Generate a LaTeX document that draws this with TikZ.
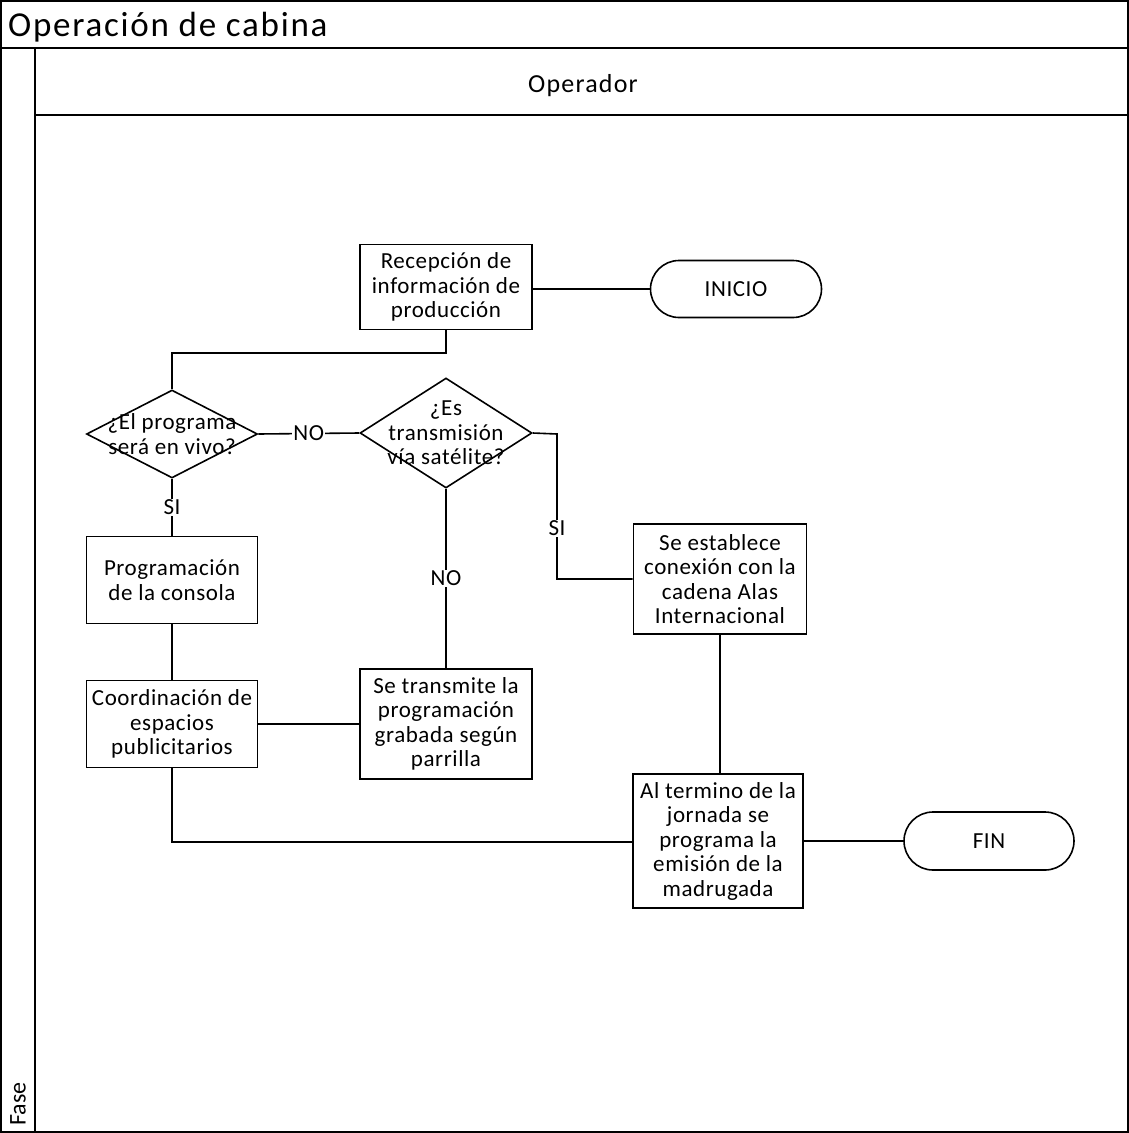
\documentclass[tikz,border=0pt]{standalone}
\usepackage{fontspec}
\setmainfont{Carlito}
\newfontfamily\boxfont[LetterSpace=2.5]{Carlito}
\newfontfamily\titlefont[LetterSpace=5]{Carlito}
\newfontfamily\lanefont[LetterSpace=4.6]{Carlito}
\usetikzlibrary{shapes.geometric,shapes.misc}
\begin{document}
\begin{tikzpicture}[x=1pt,y=-1pt,line width=1.6pt,
  every node/.style={font=\boxfont\fontsize{23}{24.5}\selectfont},
  procbox/.style={draw,rectangle,inner sep=0pt,align=center},
  decis/.style={draw,diamond,inner sep=0pt,minimum width=171pt,minimum height=88pt},
  termin/.style={draw,rounded rectangle,inner sep=0pt,minimum width=171pt,minimum height=57pt},
  lbl/.style={fill=white,inner sep=1pt}]
\useasboundingbox (0,0) rectangle (1129,1133);
% frame
\draw (0.8,0.8) rectangle (1128.2,1132.2);
\draw (0,48) -- (1129,48);
\draw (35,48) -- (35,1133);
\draw (35,115) -- (1129,115);
\node[anchor=west,font=\titlefont\fontsize{35}{38}\selectfont] (title) at (4,27) {Operación de cabina};
\node[font=\lanefont\fontsize{26}{30}\selectfont] (lane) at (583,86) {Operador};
\node[anchor=west,rotate=90,font=\setmainfont{Carlito}\fontsize{24}{28}\selectfont] (fase) at (18,1130) {Fase};
% nodes
\node[procbox,minimum width=172pt,minimum height=85pt] (rec) at (446,287) {Recepción de\\información de\\producción};
\node[termin] (ini) at (736,289) {INICIO};
\node[decis] (d1) at (172,434) {};
\node[align=center] (d1t) at (172,434) {¿El programa\\será en vivo?};
\node[decis,minimum width=172pt,minimum height=110pt] (d2) at (446,433) {};
\node[align=center] (d2t) at (446,433) {¿Es\\transmisión\\vía satélite?};
\node[procbox,minimum width=171pt,minimum height=87pt] (prog) at (172,580) {Programación\\de la consola};
\node[procbox,minimum width=171pt,minimum height=87pt] (coord) at (172,724) {Coordinación de\\espacios\\publicitarios};
\node[procbox,minimum width=172pt,minimum height=110pt] (trans) at (446,724) {Se transmite la\\programación\\grabada según\\parrilla};
\node[procbox,minimum width=173pt,minimum height=110pt] (est) at (720,579) {Se establece\\conexión con la\\cadena Alas\\Internacional};
\node[procbox,minimum width=170pt,minimum height=134pt] (fin1) at (718,841) {Al termino de la\\jornada se\\programa la\\emisión de la\\madrugada};
\node[termin,minimum width=170pt,minimum height=58pt] (fin) at (989,841) {FIN};
\coordinate (c1) at (446,353);
\coordinate (c2) at (172,353);
\coordinate (c3) at (557,434);
\coordinate (c4) at (557,579);
\coordinate (c5) at (172,842);
% connectors
\draw (ini.west) -- (rec.east |- ini.west);
\draw (rec.south) -- (c1) -- (c2) -- (d1.north);
\draw (d1.east) -- node[lbl] (no1) {NO} (d2.west);
\draw (d1.south) -- node[lbl,pos=0.5] (si1) {SI} (prog.north);
\draw (prog.south) -- (coord.north);
\draw (d2.south) -- node[lbl,pos=0.5] (no2) {NO} (trans.north);
\draw (coord.east) -- (trans.west);
\draw (d2.east) -- (c3) -- node[lbl,pos=0.65] (si2) {SI} (c4) -- (est.west);
\draw (est.south) -- (est.south |- fin1.north);
\draw (coord.south) -- (c5) -- (c5 -| fin1.west);
\draw (fin1.east) -- (fin.west);
\end{tikzpicture}
\end{document}
